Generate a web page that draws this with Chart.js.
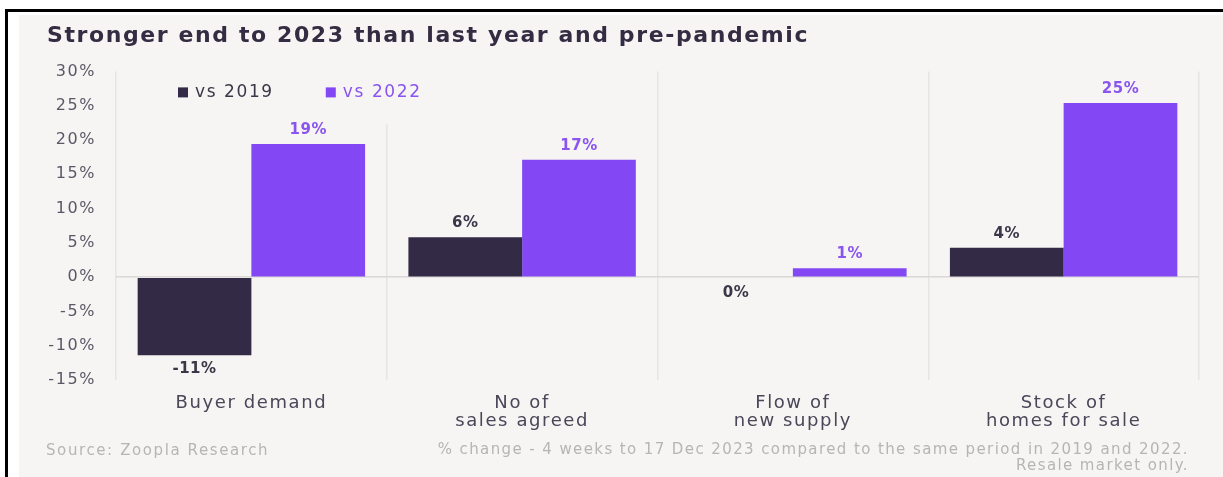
<!DOCTYPE html>
<html>
<head>
<meta charset="utf-8">
<script src="https://cdn.jsdelivr.net/npm/chart.js@4.4.0/dist/chart.umd.min.js"></script>
<style>
    html, body { margin: 0; padding: 0; background: #ffffff; }
    body { width: 1223px; height: 477px; position: relative; overflow: hidden; }
    #frame-top { position: absolute; left: 5px; top: 9px; width: 1218px; height: 3px; background: #000; }
    #frame-left { position: absolute; left: 5px; top: 9px; width: 3px; height: 468px; background: #000; }
    #panel { position: absolute; left: 19px; top: 15px; width: 1204px; height: 462px; background: #f6f5f3; }
    #chart { position: absolute; left: 0; top: 0; }
</style>
</head>
<body>
<div id="frame-top"></div>
<div id="frame-left"></div>
<div id="panel">
    <canvas id="chart" width="1204" height="462"></canvas>
</div>
<script>
// Chart data
const categories = [['Buyer demand'], ['No of', 'sales agreed'], ['Flow of', 'new supply'], ['Stock of', 'homes for sale']];
const seriesLabels = ['vs 2019', 'vs 2022'];
const vs2019 = [-11.4, 5.8, 0, 4.3];
const vs2022 = [19.4, 17.1, 1.3, 25.4];
const yTicks = [-15, -10, -5, 0, 5, 10, 15, 20, 25, 30];

const FONT = "'DejaVu Sans', sans-serif";
const SPACING = '1.6px';   // the original typeface is much wider than DejaVu
const darkColor = '#332a46';
const purpleColor = '#8348f3';
const panelColor = '#f6f5f3';

// Widen all text a little
const wideText = {
    id: 'wideText',
    beforeUpdate(chart) { chart.ctx.letterSpacing = SPACING; },
    beforeDraw(chart) { chart.ctx.letterSpacing = SPACING; }
};

// Legend sitting inside the plot, covering the grid behind it
const innerLegend = {
    id: 'innerLegend',
    afterDatasetsDraw(chart) {
        const ctx = chart.ctx;
        const area = chart.chartArea;
        ctx.save();
        ctx.fillStyle = panelColor;
        ctx.fillRect(area.left + 2, area.top - 2, 320, 55);
        ctx.font = '500 17px ' + FONT;
        ctx.textBaseline = 'middle';
        let x = area.left + 62;
        const y = area.top + 21;
        chart.data.datasets.forEach(ds => {
            ctx.fillStyle = ds.backgroundColor;
            ctx.fillRect(x, y - 5, 10, 10);
            ctx.fillStyle = ds.labelColor;
            ctx.fillText(ds.label, x + 17, y);
            x += 17 + ctx.measureText(ds.label).width + 52;
        });
        ctx.restore();
    }
};

// Value labels above / below each bar
const valueLabels = {
    id: 'valueLabels',
    afterDatasetsDraw(chart) {
        const ctx = chart.ctx;
        ctx.save();
        ctx.letterSpacing = '0.5px';
        ctx.font = 'bold 15px ' + FONT;
        ctx.textAlign = 'center';
        ctx.textBaseline = 'middle';
        chart.data.datasets.forEach((ds, di) => {
            const meta = chart.getDatasetMeta(di);
            ctx.fillStyle = ds.labelColor;
            meta.data.forEach((bar, i) => {
                const v = ds.data[i];
                const y = v > 0 ? bar.y - 14 : bar.y + (v < 0 ? 14 : 16);
                ctx.fillText(Math.round(v) + '%', bar.x, y);
            });
        });
        ctx.restore();
    }
};

// Source and notes along the bottom
const footerNotes = {
    id: 'footerNotes',
    afterDraw(chart) {
        const ctx = chart.ctx;
        ctx.save();
        ctx.font = '15px ' + FONT;
        ctx.fillStyle = '#b5b5b5';
        ctx.textBaseline = 'middle';
        ctx.textAlign = 'left';
        ctx.letterSpacing = '1.6px';
        ctx.fillText('Source: Zoopla Research', 27, 436);
        ctx.textAlign = 'right';
        ctx.letterSpacing = '1.4px';
        ctx.fillText('% change - 4 weeks to 17 Dec 2023 compared to the same period in 2019 and 2022.', 1170, 435);
        ctx.fillText('Resale market only.', 1170, 451);
        ctx.restore();
    }
};

const ctx = document.getElementById('chart').getContext('2d');

window.zooplaChart = new Chart(ctx, {
    type: 'bar',
    data: {
        labels: categories,
        datasets: [
            {
                label: seriesLabels[0],
                data: vs2019,
                backgroundColor: darkColor,
                labelColor: '#3c3748'
            },
            {
                label: seriesLabels[1],
                data: vs2022,
                backgroundColor: purpleColor,
                labelColor: '#8a55ef'
            }
        ]
    },
    options: {
        responsive: false,
        devicePixelRatio: 1,
        animation: false,
        categoryPercentage: 0.84,
        barPercentage: 1.0,
        layout: {
            padding: { left: 28, right: 24, top: 0, bottom: 33 }
        },
        scales: {
            x: {
                grid: {
                    offset: true,
                    color: '#e6e5e3',
                    lineWidth: 1.5,
                    drawTicks: false
                },
                border: { display: false },
                ticks: {
                    color: '#4b4658',
                    font: { family: FONT, size: 18, lineHeight: 1.0 },
                    padding: 14,
                    maxRotation: 0
                }
            },
            y: {
                min: -15,
                max: 30,
                afterBuildTicks: function(scale) {
                    scale.ticks = yTicks.map(v => ({ value: v }));
                },
                afterFit: function(scale) {
                    scale.width = 69;
                },
                grid: {
                    drawTicks: false,
                    lineWidth: 1.5,
                    color: function(context) {
                        return context.tick && context.tick.value === 0 ? '#d9d8d6' : 'transparent';
                    }
                },
                border: { display: false },
                ticks: {
                    color: '#5b5866',
                    font: { family: FONT, size: 16 },
                    padding: 20,
                    callback: function(value) {
                        return value + '%';
                    }
                }
            }
        },
        plugins: {
            legend: { display: false },
            tooltip: { enabled: false },
            title: {
                display: true,
                text: 'Stronger end to 2023 than last year and pre-pandemic',
                align: 'start',
                color: '#342c42',
                font: { family: FONT, size: 22, weight: 'bold' },
                padding: { top: 8, bottom: 22 }
            }
        }
    },
    plugins: [wideText, innerLegend, valueLabels, footerNotes]
});
</script>
</body>
</html>
